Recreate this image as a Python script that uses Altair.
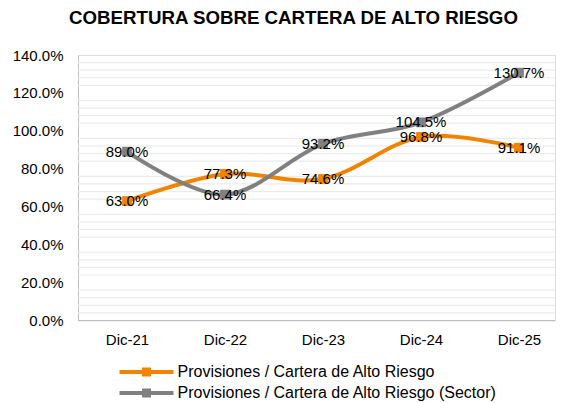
import altair as alt
import pandas as pd

categories = ["Dic-21", "Dic-22", "Dic-23", "Dic-24", "Dic-25"]
entidad = [63.0, 77.3, 74.6, 96.8, 91.1]
sector = [89.0, 66.4, 93.2, 104.5, 130.7]
series_names = ["Provisiones / Cartera de Alto Riesgo",
                "Provisiones / Cartera de Alto Riesgo (Sector)"]
colors = ["#F08300", "#808080"]
y_ticks = [0, 20, 40, 60, 80, 100, 120, 140]
grid_vals = [v for v in range(0, 141, 4) if v % 20 != 0]

rows = []
for name, vals in zip(series_names, [entidad, sector]):
    for c, v in zip(categories, vals):
        rows.append({"cat": c, "val": v, "serie": name, "lbl": f"{v:.1f}%"})
df = pd.DataFrame(rows)
grid_df = pd.DataFrame({"g": grid_vals})

FONT = "Liberation Sans"
yscale = alt.Scale(domain=[0, 140], nice=False, zero=True)
xscale = alt.Scale(domain=categories, type="point", range=[49, 441], padding=0)

y_axis = alt.Axis(title=None, values=y_ticks, grid=False, ticks=False,
                  domainColor="#bfbfbf", domainWidth=1,
                  labelExpr="format(datum.value, '.1f') + '%'",
                  labelFont=FONT, labelFontSize=15, labelColor="#000000",
                  labelPadding=15)
x_axis = alt.Axis(title=None, domain=False, ticks=False, labelFont=FONT,
                  labelFontSize=15, labelColor="#000000", labelPadding=12,
                  labelAngle=0, grid=False)

grid = alt.Chart(grid_df).mark_rule(color="#ebebeb", strokeWidth=1.2).encode(
    y=alt.Y("g:Q", scale=yscale, axis=y_axis)
)
base_line = alt.Chart(pd.DataFrame({"z": [0]})).mark_rule(color="#bfbfbf", strokeWidth=1).encode(
    y=alt.Y("z:Q", scale=yscale, axis=y_axis)
)

# line with a square in its middle, drawn 12 units wide so the entry row stays short
sym_path = ("M-6,-0.42L6,-0.42L6,0.42L-6,0.42Z"
            "M-1,-1L1,-1L1,1L-1,1Z")

color_enc = alt.Color(
    "serie:N",
    scale=alt.Scale(domain=series_names, range=colors),
    legend=alt.Legend(
        title=None, orient="none", legendX=60.5, legendY=309, direction="vertical",
        symbolType=sym_path, symbolSize=81, symbolStrokeWidth=0,
        labelFont=FONT, labelFontSize=16, labelColor="#000000", labelLimit=0,
        labelOffset=23, rowPadding=5, padding=0, symbolOpacity=1,
    ),
)

lines = alt.Chart(df).mark_line(interpolate="cardinal", strokeWidth=4).encode(
    x=alt.X("cat:N", scale=xscale, sort=categories, axis=x_axis),
    y=alt.Y("val:Q", scale=yscale, axis=y_axis),
    color=color_enc,
    detail="serie:N",
)

points = alt.Chart(df).mark_point(shape="square", filled=True, size=95, opacity=1).encode(
    x=alt.X("cat:N", scale=xscale, sort=categories, axis=x_axis),
    y=alt.Y("val:Q", scale=yscale, axis=y_axis),
    color=alt.Color("serie:N", scale=alt.Scale(domain=series_names, range=colors), legend=None),
)

labels = alt.Chart(df).mark_text(font=FONT, fontSize=15, color="#000000",
                                 align="center", baseline="middle", dy=0).encode(
    x=alt.X("cat:N", scale=xscale, sort=categories, axis=x_axis),
    y=alt.Y("val:Q", scale=yscale, axis=y_axis),
    text="lbl:N",
)

chart = alt.layer(grid, base_line, lines, points, labels).properties(
    width=477, height=265.5,
    autosize=alt.AutoSizeParams(type="none"),
    padding={"left": 70, "top": 47, "right": 1, "bottom": 82},
    title=alt.TitleParams(
        "COBERTURA SOBRE CARTERA DE ALTO RIESGO", font=FONT, fontSize=18.7,
        fontWeight="bold", color="#000000", anchor="middle", dx=-23,
        baseline="alphabetic", offset=5,
    ),
).configure_view(stroke=None).configure(background="#ffffff")

chart.save("out.html", embed_options={"renderer": "svg", "actions": False})
